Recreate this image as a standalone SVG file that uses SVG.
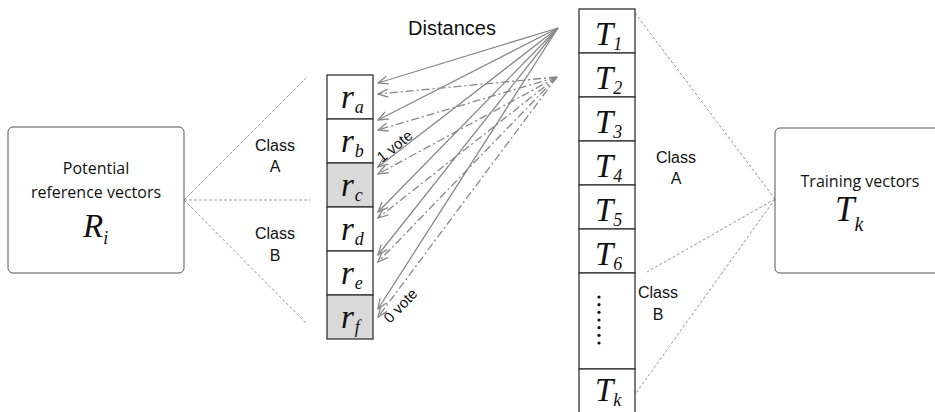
<svg xmlns="http://www.w3.org/2000/svg" width="935" height="412" viewBox="0 0 935 412">
<style>
.box{fill:#fff;stroke:#555;stroke-width:1}
.cell{fill:#fff;stroke:#333;stroke-width:1.3}
.shade{fill:#d9d9d9;stroke:#333;stroke-width:1.3}
.dash{stroke:#999;stroke-width:1;stroke-dasharray:3,2;fill:none}
.sol{stroke:#888;stroke-width:1.3;fill:none;marker-end:url(#ah)}
.dd{stroke:#888;stroke-width:1.3;fill:none;stroke-dasharray:8,3,2,3;marker-end:url(#ah)}
.lbl{font-family:"Liberation Sans",Arial,sans-serif;font-size:16px;fill:#111;text-anchor:middle}
.vote{font-family:"Liberation Sans",Arial,sans-serif;font-size:15px;fill:#111}
.math{font-family:"Liberation Serif","Times New Roman",serif;font-style:italic;fill:#111}
.big{font-size:33px}
.sub{font-size:18px}
</style>
<defs>
<marker id="ah" markerWidth="12" markerHeight="10" refX="11" refY="5" orient="auto" markerUnits="userSpaceOnUse">
<path d="M1,1 L11,5 L1,9" fill="none" stroke="#888" stroke-width="1.3"/>
</marker>
</defs>

<g id="connectors">
<line class="dash" x1="184" y1="200" x2="307" y2="77"/>
<line class="dash" x1="184" y1="200" x2="310" y2="200"/>
<line class="dash" x1="184" y1="200" x2="307" y2="324"/>
<line class="dash" x1="775" y1="199" x2="635" y2="13"/>
<line class="dash" x1="775" y1="199" x2="647" y2="272"/>
<line class="dash" x1="775" y1="199" x2="636" y2="393"/>
<line class="sol" x1="558" y1="28" x2="378" y2="83"/>
<line class="sol" x1="558" y1="28" x2="378" y2="120"/>
<line class="sol" x1="558" y1="28" x2="378" y2="167"/>
<line class="sol" x1="558" y1="28" x2="378" y2="212"/>
<line class="sol" x1="558" y1="28" x2="378" y2="255"/>
<line class="sol" x1="558" y1="28" x2="378" y2="309"/>
<line class="dd" x1="557" y1="77" x2="378" y2="94"/>
<line class="dd" x1="557" y1="77" x2="378" y2="130"/>
<line class="dd" x1="557" y1="77" x2="378" y2="174"/>
<line class="dd" x1="557" y1="77" x2="378" y2="218"/>
<line class="dd" x1="557" y1="77" x2="378" y2="262"/>
<line class="dd" x1="557" y1="77" x2="378" y2="317"/>
</g>

<g id="labels">
<text class="lbl" x="452" y="35" style="font-size:20px">Distances</text>
<text class="lbl" x="275" y="151">Class</text>
<text class="lbl" x="275" y="172">A</text>
<text class="lbl" x="275" y="239">Class</text>
<text class="lbl" x="275" y="261">B</text>
<text class="lbl" x="676" y="163">Class</text>
<text class="lbl" x="676" y="184">A</text>
<text class="lbl" x="658" y="298">Class</text>
<text class="lbl" x="658" y="320">B</text>
<text class="vote" x="382" y="163" transform="rotate(-39 382 163)">1 vote</text>
<text class="vote" x="390" y="324" transform="rotate(-46 390 324)">0 vote</text>
</g>

<g id="node-R">
<rect class="box" x="8" y="127" width="176" height="146" rx="5"/>
<text x="96" y="174" style="font-family:'Open Sans','Noto Sans',sans-serif;font-size:16px;fill:#111;text-anchor:middle">Potential</text>
<text x="96" y="198" style="font-family:'Open Sans','Noto Sans',sans-serif;font-size:16px;fill:#111;text-anchor:middle">reference vectors</text>
<text class="math" x="83" y="237" style="font-size:33px">R<tspan class="sub" dx="0" dy="7">i</tspan></text>
</g>

<g id="node-Tbox">
<rect class="box" x="775" y="128" width="175" height="145" rx="5"/>
<text x="860" y="187" style="font-family:'Open Sans','Noto Sans',sans-serif;font-size:16px;fill:#111;text-anchor:middle">Training vectors</text>
<text class="math" x="835" y="221" style="font-size:35px">T<tspan class="sub" dx="0" dy="10" style="font-size:20px">k</tspan></text>
</g>

<g id="node-r">
<rect class="cell" x="327" y="75" width="46" height="44"/>
<rect class="cell" x="327" y="119" width="46" height="44"/>
<rect class="shade" x="327" y="163" width="46" height="44"/>
<rect class="cell" x="327" y="207" width="46" height="44"/>
<rect class="cell" x="327" y="251" width="46" height="44"/>
<rect class="shade" x="327" y="295" width="46" height="44"/>
<text class="math big" x="341" y="108">r<tspan class="sub" dx="1" dy="5">a</tspan></text>
<text class="math big" x="341" y="152">r<tspan class="sub" dx="1" dy="5">b</tspan></text>
<text class="math big" x="341" y="196">r<tspan class="sub" dx="1" dy="5">c</tspan></text>
<text class="math big" x="341" y="240">r<tspan class="sub" dx="1" dy="5">d</tspan></text>
<text class="math big" x="341" y="284">r<tspan class="sub" dx="1" dy="5">e</tspan></text>
<text class="math big" x="341" y="328">r<tspan class="sub" dx="1" dy="5">f</tspan></text>
</g>

<g id="node-T">
<rect class="cell" x="579" y="9" width="56" height="44"/>
<rect class="cell" x="579" y="53" width="56" height="44"/>
<rect class="cell" x="579" y="97" width="56" height="44"/>
<rect class="cell" x="579" y="141" width="56" height="44"/>
<rect class="cell" x="579" y="185" width="56" height="44"/>
<rect class="cell" x="579" y="229" width="56" height="44"/>
<rect class="cell" x="579" y="273" width="56" height="96"/>
<rect class="cell" x="579" y="369" width="56" height="50"/>
<text class="math big" x="595" y="45">T<tspan class="sub" dx="0" dy="5">1</tspan></text>
<text class="math big" x="595" y="89">T<tspan class="sub" dx="0" dy="5">2</tspan></text>
<text class="math big" x="595" y="133">T<tspan class="sub" dx="0" dy="5">3</tspan></text>
<text class="math big" x="595" y="177">T<tspan class="sub" dx="0" dy="5">4</tspan></text>
<text class="math big" x="595" y="221">T<tspan class="sub" dx="0" dy="5">5</tspan></text>
<text class="math big" x="595" y="265">T<tspan class="sub" dx="0" dy="5">6</tspan></text>
<text class="math big" x="595" y="401">T<tspan class="sub" dx="0" dy="5">k</tspan></text>
<g fill="#111">
<circle cx="599" cy="297" r="1.6"/>
<circle cx="599" cy="304.7" r="1.6"/>
<circle cx="599" cy="312.3" r="1.6"/>
<circle cx="599" cy="320" r="1.6"/>
<circle cx="599" cy="327.7" r="1.6"/>
<circle cx="599" cy="335.3" r="1.6"/>
<circle cx="599" cy="343" r="1.6"/>
</g>
</g>
</svg>
